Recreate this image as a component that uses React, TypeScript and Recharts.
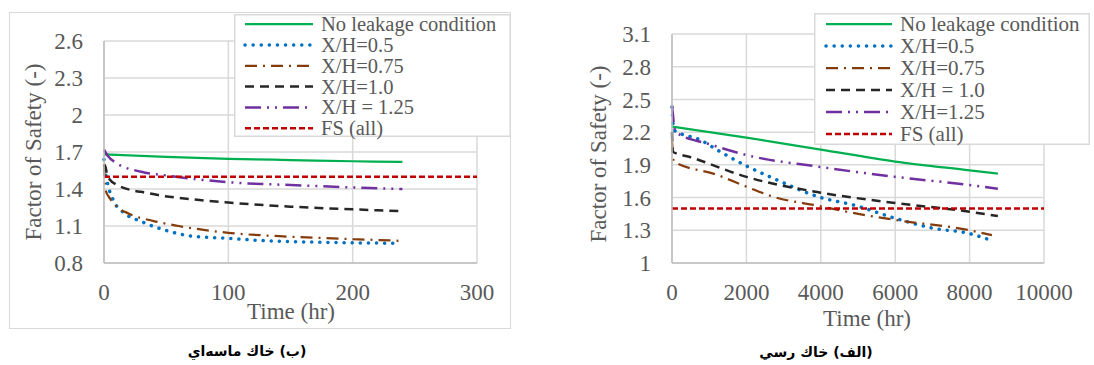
import React from 'react';
import { LineChart, Line, XAxis, YAxis, CartesianGrid, Legend } from 'recharts';

// ---------- Sand soil (left, "ب") ----------
const sandXTicks = [0, 100, 200, 300];
const sandYTicks = [0.8, 1.1, 1.4, 1.7, 2.0, 2.3, 2.6];

const sandNoLeakT = [0, 50, 100, 150, 200, 240];
const sandNoLeakFS = [1.68, 1.66, 1.645, 1.635, 1.625, 1.62];

const sandXH05T = [0, 1, 3, 8, 17, 29, 48, 69, 100, 131, 166, 200, 235];
const sandXH05FS = [1.64, 1.55, 1.44, 1.3, 1.2, 1.14, 1.07, 1.02, 1.0, 0.98, 0.97, 0.964, 0.96];

const sandXH075T = [0, 1, 5, 10, 20, 40, 60, 100, 150, 200, 237];
const sandXH075FS = [1.6, 1.4, 1.32, 1.26, 1.2, 1.14, 1.1, 1.045, 1.013, 0.994, 0.98];

const sandXH10T = [0, 1, 3, 11, 36, 77, 100, 150, 200, 240];
const sandXH10FS = [1.6, 1.585, 1.5, 1.43, 1.365, 1.31, 1.29, 1.257, 1.235, 1.22];

const sandXH125T = [0, 3, 10, 30, 50, 100, 150, 200, 240];
const sandXH125FS = [1.72, 1.67, 1.61, 1.54, 1.51, 1.455, 1.432, 1.413, 1.4];

const sandFST = [0, 300];
const sandFSV = [1.5, 1.5];

const sandNames = ['No leakage condition', 'X/H=0.5', 'X/H=0.75', 'X/H=1.0', 'X/H = 1.25', 'FS (all)'];

// ---------- Clay soil (right, "الف") ----------
const clayXTicks = [0, 2000, 4000, 6000, 8000, 10000];
const clayYTicks = [1.0, 1.3, 1.6, 1.9, 2.2, 2.5, 2.8, 3.1];

const clayNoLeakT = [0, 2000, 4000, 6000, 8000, 8760];
const clayNoLeakFS = [2.25, 2.15, 2.04, 1.93, 1.85, 1.82];

const clayXH05T = [0, 50, 750, 1300, 2000, 2700, 4000, 4900, 6000, 7000, 8000, 8640];
const clayXH05FS = [2.43, 2.22, 2.13, 2.02, 1.89, 1.78, 1.6, 1.53, 1.41, 1.32, 1.27, 1.2];

const clayXH075T = [0, 50, 1200, 2000, 2700, 4000, 4700, 6000, 8000, 8600];
const clayXH075FS = [2.12, 1.93, 1.81, 1.7, 1.61, 1.52, 1.47, 1.395, 1.3, 1.255];

const clayXH10T = [0, 20, 500, 2000, 4000, 6000, 8000, 8760];
const clayXH10FS = [2.2, 2.02, 1.97, 1.79, 1.645, 1.55, 1.47, 1.43];

const clayXH125T = [0, 100, 1000, 2000, 4000, 6000, 8000, 8760];
const clayXH125FS = [2.44, 2.2, 2.09, 1.99, 1.88, 1.79, 1.715, 1.68];

const clayFST = [0, 10000];
const clayFSV = [1.5, 1.5];

const clayNames = ['No leakage condition', 'X/H=0.5', 'X/H=0.75', 'X/H = 1.0', 'X/H=1.25', 'FS (all)'];

// ---------- styles ----------
const FONT = '"Liberation Serif", "Times New Roman", serif';
const TEXT = '#595959';
const GRID = '#D9D9D9';

type Sty = { color: string; dash?: string; width: number; cap?: 'round' | 'butt' };
const STYLES: Sty[] = [
  { color: '#00B050', width: 2.25 },
  { color: '#0070C0', dash: '0.1 8', width: 3.5, cap: 'round' },
  { color: '#843C0C', dash: '12 6 2 6', width: 2.25 },
  { color: '#262626', dash: '9 6', width: 2.5 },
  { color: '#7030A0', dash: '16 6 2 6 2 6', width: 2.5 },
  { color: '#C00000', dash: '6 3', width: 2.5 },
];

const zip = (t: number[], v: number[]) => t.map((x, i) => ({ t: x, fs: v[i] }));

const sandData = [
  zip(sandNoLeakT, sandNoLeakFS),
  zip(sandXH05T, sandXH05FS),
  zip(sandXH075T, sandXH075FS),
  zip(sandXH10T, sandXH10FS),
  zip(sandXH125T, sandXH125FS),
  zip(sandFST, sandFSV),
];
const clayData = [
  zip(clayNoLeakT, clayNoLeakFS),
  zip(clayXH05T, clayXH05FS),
  zip(clayXH075T, clayXH075FS),
  zip(clayXH10T, clayXH10FS),
  zip(clayXH125T, clayXH125FS),
  zip(clayFST, clayFSV),
];

const fmt = (v: number) => String(Number(v.toFixed(1)));

type LegendCfg = { left: number; top: number; width: number; height: number; firstRow: number; rowGap: number; lineX1: number; lineX2: number; textX: number; fontSize: number };

function makeLegend(names: string[], cfg: LegendCfg) {
  return () => (
    <svg width={cfg.width} height={cfg.height} style={{ display: 'block', overflow: 'visible' }}>
      <rect x={0.75} y={0.75} width={cfg.width - 1.5} height={cfg.height - 1.5} fill="#fff" stroke={GRID} strokeWidth={1.5} />
      {names.map((n, i) => {
        const s = STYLES[i];
        const y = cfg.firstRow + i * cfg.rowGap;
        return (
          <g key={n}>
            <line x1={cfg.lineX1} x2={cfg.lineX2} y1={y} y2={y} stroke={s.color} strokeWidth={s.width}
              strokeDasharray={s.dash} strokeLinecap={s.cap || 'butt'} />
            <text x={cfg.textX} y={y} dominantBaseline="central" fontFamily={FONT} fontSize={cfg.fontSize} fill={TEXT}>{n}</text>
          </g>
        );
      })}
    </svg>
  );
}

type PanelProps = {
  data: { t: number; fs: number }[][];
  names: string[];
  xTicks: number[];
  yTicks: number[];
  width: number;
  height: number;
  margin: { top: number; right: number; bottom: number; left: number };
  legend: LegendCfg;
  yLabel: { x: number; y: number };
  xLabel: { x: number; y: number };
};

function Panel(p: PanelProps) {
  return (
    <LineChart width={p.width} height={p.height} margin={p.margin}>
      <CartesianGrid stroke={GRID} strokeWidth={1.5} />
      <XAxis dataKey="t" type="number" domain={[p.xTicks[0], p.xTicks[p.xTicks.length - 1]]} ticks={p.xTicks}
        interval={0} height={30} tickLine={false} tickMargin={15}
        axisLine={{ stroke: '#BFBFBF', strokeWidth: 1.5 }}
        tick={{ fill: TEXT, fontSize: 23, fontFamily: FONT }}
        label={{
          content: () => (
            <text x={p.xLabel.x} y={p.xLabel.y} textAnchor="middle" fontFamily={FONT} fontSize={23} fill={TEXT}>Time (hr)</text>
          ),
        }}
      />
      <YAxis type="number" domain={[p.yTicks[0], p.yTicks[p.yTicks.length - 1]]} ticks={p.yTicks} interval={0}
        width={90} tickLine={false} tickMargin={15} tickFormatter={fmt}
        axisLine={{ stroke: '#BFBFBF', strokeWidth: 1.5 }}
        tick={{ fill: TEXT, fontSize: 23, fontFamily: FONT }}
        label={{
          content: () => (
            <text x={p.yLabel.x} y={p.yLabel.y} transform={`rotate(-90 ${p.yLabel.x} ${p.yLabel.y})`} textAnchor="middle"
              dominantBaseline="central" fontFamily={FONT} fontSize={23} fill={TEXT}>Factor of Safety (-)</text>
          ),
        }}
      />
      {p.data.map((d, i) => {
        const s = STYLES[i];
        return (
          <Line key={p.names[i]} name={p.names[i]} data={d} dataKey="fs" type="monotone" stroke={s.color}
            strokeWidth={s.width} strokeDasharray={s.dash} strokeLinecap={s.cap || 'butt'}
            dot={false} activeDot={false} isAnimationActive={false} />
        );
      })}
      <Legend layout="vertical" align="center" verticalAlign="middle"
        content={makeLegend(p.names, p.legend)}
        wrapperStyle={{ left: p.legend.left, top: p.legend.top, width: p.legend.width, height: p.legend.height }} />
    </LineChart>
  );
}

export default function App() {
  return (
    <div style={{ position: 'absolute', left: 0, top: 0, width: 1094, height: 365, background: '#fff', overflow: 'hidden' }}>
      {/* left chart border */}
      <div style={{ position: 'absolute', left: 9, top: 12, width: 502, height: 317, border: `1.5px solid ${GRID}`, boxSizing: 'border-box' }} />
      <div style={{ position: 'absolute', left: 0, top: 0 }}>
        <Panel data={sandData} names={sandNames} xTicks={sandXTicks} yTicks={sandYTicks}
          width={520} height={330} margin={{ top: 41, right: 43, bottom: 37, left: 14 }}
          legend={{ left: 234, top: 14, width: 277, height: 123, firstRow: 10.2, rowGap: 20.8, lineX1: 11, lineX2: 79, textX: 87, fontSize: 20.5 }}
          yLabel={{ x: 33, y: 152 }} xLabel={{ x: 291, y: 319 }} />
      </div>
      <div style={{ position: 'absolute', left: 560, top: 0 }}>
        <Panel data={clayData} names={clayNames} xTicks={clayXTicks} yTicks={clayYTicks}
          width={534} height={335} margin={{ top: 34, right: 50, bottom: 42, left: 22 }}
          legend={{ left: 254, top: 13, width: 276, height: 132, firstRow: 11, rowGap: 22, lineX1: 12, lineX2: 78, textX: 86, fontSize: 21 }}
          yLabel={{ x: 38, y: 154 }} xLabel={{ x: 307, y: 326 }} />
      </div>
      <div dir="rtl" style={{ position: 'absolute', left: 147, top: 341, width: 200, textAlign: 'center', fontFamily: '"DejaVu Sans", sans-serif', fontWeight: 'bold', fontSize: 14, lineHeight: '20px', color: '#000' }}>
        (ب) خاك ماسه‌اي
      </div>
      <div dir="rtl" style={{ position: 'absolute', left: 716, top: 342, width: 200, textAlign: 'center', fontFamily: '"DejaVu Sans", sans-serif', fontWeight: 'bold', fontSize: 14, lineHeight: '20px', color: '#000' }}>
        (الف) خاك رسي
      </div>
    </div>
  );
}
